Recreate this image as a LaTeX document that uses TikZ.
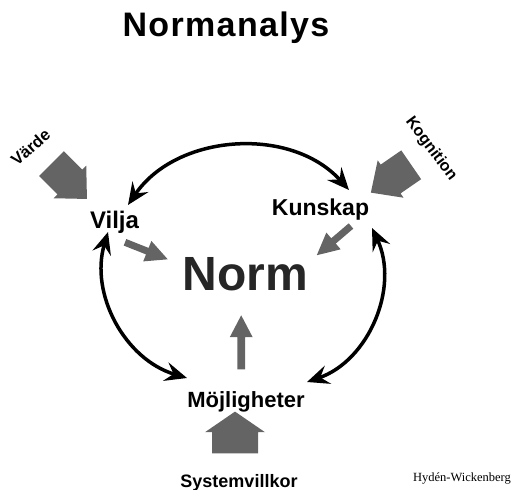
\documentclass[tikz,border=0pt]{standalone}
\usepackage{fontspec}
\setmainfont{Liberation Sans}
\newfontfamily\titlefont{Liberation Sans}[LetterSpace=4]
\newfontfamily\serifface{Liberation Serif}
\usetikzlibrary{arrows.meta}
\definecolor{agray}{RGB}{100,100,100}
\definecolor{normgray}{RGB}{38,38,38}
\newcommand{\blockarr}[7]{\fill[agray, shift={(#1,#2)}, rotate=#3] (0,{-#5/2}) -- ({#4-#7},{-#5/2}) -- ({#4-#7},{-#6/2}) -- (#4,0) -- ({#4-#7},{#6/2}) -- ({#4-#7},{#5/2}) -- (0,{#5/2}) -- cycle;}
\tikzset{
  lbl/.style={inner sep=0pt, anchor=base, font=\bfseries},
  dblarr/.style={line width=3.5pt, {Stealth[length=22pt,width=19pt,inset=8pt]}-{Stealth[length=22pt,width=19pt,inset=8pt]}}
}
\begin{document}
\begin{tikzpicture}[x=1pt,y=1pt]
\useasboundingbox (0,0) rectangle (525,-490);
% texts
\node[lbl] (title) at (226,-36) {\titlefont\bfseries\fontsize{34}{38}\selectfont Normanalys};
\node[lbl, text=normgray] (norm) at (245.5,-290) {\fontsize{48}{52}\selectfont Norm};
\node[lbl] (vilja) at (114.5,-228) {\fontsize{24}{28}\selectfont Vilja};
\node[lbl] (kunskap) at (320.5,-215) {\fontsize{23}{27}\selectfont Kunskap};
\node[lbl] (moj) at (246,-407) {\fontsize{22}{26}\selectfont Möjligheter};
\node[lbl] (sys) at (239,-487) {\fontsize{18}{22}\selectfont Systemvillkor};
\node[inner sep=0pt, anchor=base] (author) at (462,-481.5) {\serifface\fontsize{12.5}{14}\selectfont Hydén-Wickenberg};
\node[inner sep=0pt, rotate=41, font=\bfseries] (varde) at (30.5,-147.5) {\fontsize{16.5}{19}\selectfont Värde};
\node[inner sep=0pt, rotate=-53, font=\bfseries] (kogn) at (431,-149) {\fontsize{16}{19}\selectfont Kognition};
% block arrows
\blockarr{51.6}{-163.6}{-45}{50}{35}{46}{24}
\blockarr{411.2}{-164.8}{214.6}{49}{35}{45.5}{24}
\blockarr{235}{-453.3}{90}{41.7}{46}{60}{20.6}
\blockarr{125}{-242.3}{-21.7}{46}{7}{22}{22}
\blockarr{351}{-226}{220.5}{45}{7}{22}{22}
\blockarr{241.2}{-369.3}{90}{54}{7.7}{22.7}{21.7}
% arc end points
\coordinate (a1) at (128,-205);
\coordinate (a2) at (349,-190);
\coordinate (b1) at (108,-232);
\coordinate (b2) at (187,-378);
\coordinate (c1) at (372,-228);
\coordinate (c2) at (307,-382);
\draw[dblarr] (a1) to[bend left=52] (a2);
\draw[dblarr] (b1) to[bend right=45] (b2);
\draw[dblarr] (c1) to[bend left=48] (c2);
\end{tikzpicture}
\end{document}
